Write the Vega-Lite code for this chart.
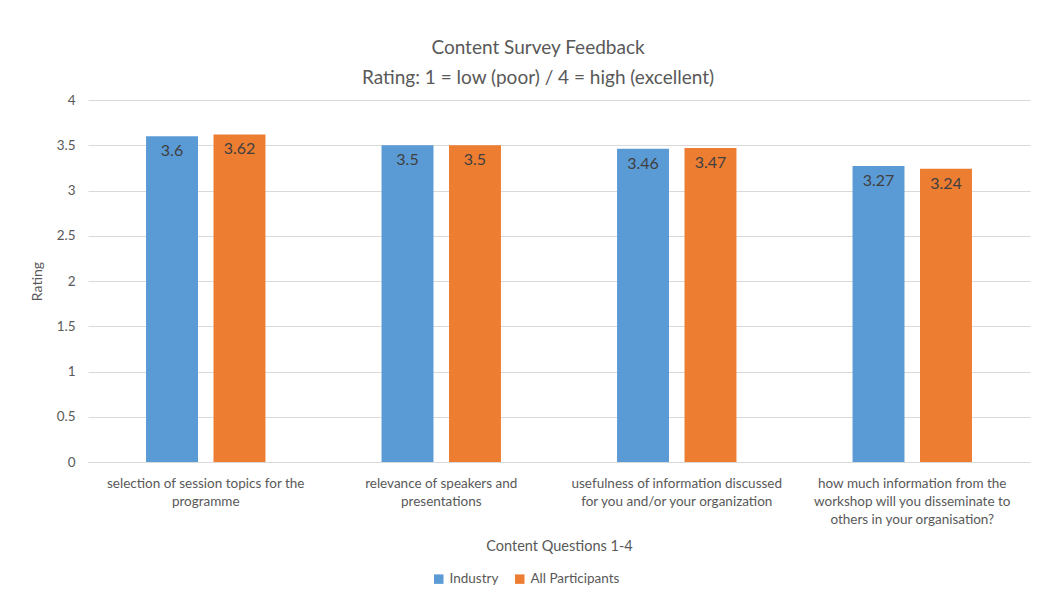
{
  "$schema": "https://vega.github.io/schema/vega-lite/v6.json",
  "autosize": {"type": "none"},
  "width": 942,
  "height": 362,
  "padding": {"left": 88, "top": 100, "right": 9, "bottom": 150},
  "background": "white",
  "config": {
    "font": "Lato",
    "view": {"stroke": null},
    "axis": {"labelColor": "#595959", "titleColor": "#595959", "labelFont": "Lato", "titleFont": "Lato", "titleFontWeight": "normal"}
  },
  "title": {
    "text": ["Content Survey Feedback", "Rating: 1 = low (poor) / 4 = high (excellent)"],
    "fontSize": 19,
    "fontWeight": "normal",
    "color": "#595959",
    "lineHeight": 30,
    "anchor": "middle",
    "dx": -21,
    "offset": 5,
    "font": "Lato"
  },
  "data": {
    "values": [
      {"question": "selection of session topics for the|programme", "group": "Industry", "rating": 3.6},
      {"question": "selection of session topics for the|programme", "group": "All Participants", "rating": 3.62},
      {"question": "relevance of speakers and|presentations", "group": "Industry", "rating": 3.5},
      {"question": "relevance of speakers and|presentations", "group": "All Participants", "rating": 3.5},
      {"question": "usefulness of information discussed|for you and/or your organization", "group": "Industry", "rating": 3.46},
      {"question": "usefulness of information discussed|for you and/or your organization", "group": "All Participants", "rating": 3.47},
      {"question": "how much information from the|workshop will you disseminate to|others in your organisation?", "group": "Industry", "rating": 3.27},
      {"question": "how much information from the|workshop will you disseminate to|others in your organisation?", "group": "All Participants", "rating": 3.24}
    ]
  },
  "encoding": {
    "x": {
      "field": "question",
      "type": "nominal",
      "sort": [
        "selection of session topics for the|programme",
        "relevance of speakers and|presentations",
        "usefulness of information discussed|for you and/or your organization",
        "how much information from the|workshop will you disseminate to|others in your organisation?"
      ],
      "scale": {"paddingInner": 0, "paddingOuter": 0},
      "title": "Content Questions 1-4",
      "axis": {
        "labelAngle": 0,
        "labelExpr": "split(datum.label, '|')",
        "labelFontSize": 13.5,
        "labelLineHeight": 18,
        "labelPadding": 14,
        "labelLimit": 300,
        "ticks": false,
        "domain": true,
        "domainColor": "#d9d9d9",
        "titleFontSize": 14.5,
        "titlePadding": 14
      }
    },
    "xOffset": {
      "field": "group",
      "type": "nominal",
      "sort": ["Industry", "All Participants"],
      "scale": {"paddingInner": 0.23, "paddingOuter": 0.86}
    },
    "y": {
      "field": "rating",
      "type": "quantitative",
      "title": "Rating",
      "scale": {"domain": [0, 4]},
      "axis": {
        "values": [0, 0.5, 1, 1.5, 2, 2.5, 3, 3.5, 4],
        "format": "~g",
        "domain": false,
        "ticks": false,
        "gridColor": "#d9d9d9",
        "gridWidth": 1,
        "labelFontSize": 13.5,
        "labelPadding": 13,
        "titleFontSize": 14,
        "titlePadding": 12
      }
    }
  },
  "layer": [
    {
      "mark": {"type": "bar"},
      "encoding": {
        "color": {
          "field": "group",
          "type": "nominal",
          "sort": ["Industry", "All Participants"],
          "scale": {"domain": ["Industry", "All Participants"], "range": ["#5B9BD5", "#ED7D31"]},
          "legend": {
            "title": null,
            "orient": "none",
            "direction": "horizontal",
            "legendX": 344,
            "legendY": 472,
            "symbolType": "square",
            "symbolSize": 90,
            "symbolStrokeWidth": 0,
            "labelFontSize": 13.5,
            "labelColor": "#595959",
            "labelFont": "Lato",
            "columnPadding": 14,
            "labelOffset": 4
          }
        }
      }
    },
    {
      "mark": {"type": "text", "baseline": "top", "dy": 7, "fontSize": 16, "color": "#404040", "font": "Lato"},
      "encoding": {
        "text": {"field": "rating", "type": "quantitative"}
      }
    }
  ]
}
